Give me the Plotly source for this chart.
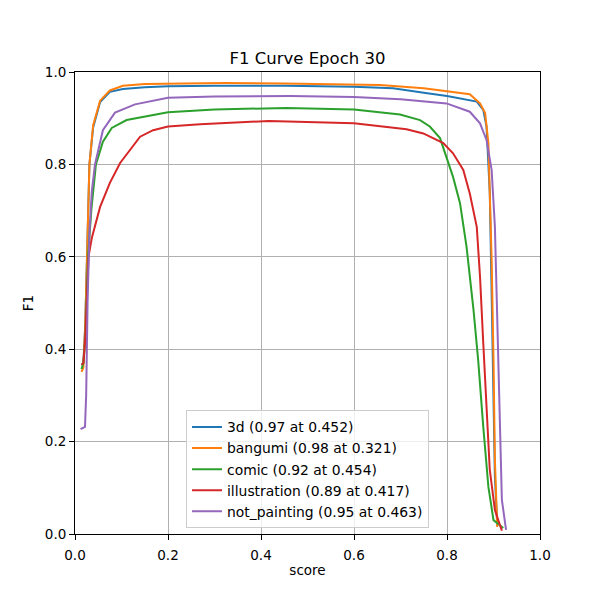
import plotly.graph_objects as go

labels = ["3d (0.97 at 0.452)", "bangumi (0.98 at 0.321)", "comic (0.92 at 0.454)",
          "illustration (0.89 at 0.417)", "not_painting (0.95 at 0.463)"]
colors = ["#1f77b4", "#ff7f0e", "#2ca02c", "#d62728", "#9467bd"]

x_3d = [0.014, 0.018, 0.022, 0.026, 0.031, 0.039, 0.054, 0.075, 0.103, 0.15, 0.2, 0.3, 0.452,
        0.6, 0.684, 0.75, 0.8, 0.864, 0.878, 0.885, 0.892, 0.896, 0.9, 0.903, 0.908]
y_3d = [0.366, 0.37, 0.45, 0.62, 0.8, 0.88, 0.935, 0.957, 0.963, 0.967, 0.969, 0.970, 0.970,
        0.968, 0.965, 0.955, 0.948, 0.936, 0.918, 0.882, 0.738, 0.52, 0.305, 0.124, 0.02]

x_bangumi = [0.014, 0.018, 0.022, 0.026, 0.031, 0.039, 0.054, 0.075, 0.103, 0.15, 0.2, 0.321,
             0.45, 0.6, 0.656, 0.75, 0.849, 0.871, 0.882, 0.889, 0.896, 0.9, 0.903, 0.908]
y_bangumi = [0.351, 0.36, 0.45, 0.62, 0.8, 0.885, 0.938, 0.96, 0.970, 0.974, 0.975, 0.976,
             0.975, 0.973, 0.972, 0.965, 0.952, 0.932, 0.911, 0.846, 0.593, 0.377, 0.16, 0.015]

x_comic = [0.014, 0.018, 0.022, 0.026, 0.028, 0.035, 0.045, 0.06, 0.079, 0.111, 0.2, 0.3, 0.454,
           0.6, 0.699, 0.742, 0.763, 0.785, 0.799, 0.813, 0.828, 0.842, 0.857, 0.867, 0.878,
           0.889, 0.9, 0.921]
y_comic = [0.357, 0.37, 0.42, 0.55, 0.6, 0.70, 0.80, 0.849, 0.879, 0.896, 0.913, 0.919, 0.922,
           0.919, 0.908, 0.896, 0.882, 0.857, 0.817, 0.773, 0.716, 0.622, 0.485, 0.377, 0.232,
           0.102, 0.03, 0.013]

x_illustration = [0.014, 0.018, 0.022, 0.026, 0.029, 0.036, 0.054, 0.075, 0.097, 0.14, 0.168,
                  0.2, 0.269, 0.417, 0.6, 0.713, 0.749, 0.792, 0.813, 0.835, 0.849, 0.864,
                  0.871, 0.878, 0.885, 0.892, 0.903, 0.918]
y_illustration = [0.366, 0.37, 0.42, 0.53, 0.6, 0.64, 0.708, 0.76, 0.803, 0.86, 0.874,
                  0.882, 0.887, 0.894, 0.889, 0.876, 0.867, 0.846, 0.824, 0.788, 0.737, 0.665,
                  0.557, 0.413, 0.268, 0.139, 0.052, 0.007]

x_not_painting = [0.012, 0.0215, 0.024, 0.027, 0.031, 0.036, 0.043, 0.06, 0.086, 0.129, 0.2,
                  0.3, 0.463, 0.6, 0.7, 0.799, 0.849, 0.871, 0.885, 0.896, 0.903, 0.908,
                  0.913, 0.918, 0.927]
y_not_painting = [0.227, 0.232, 0.3, 0.5, 0.65, 0.74, 0.8, 0.874, 0.912, 0.93, 0.944,
                  0.947, 0.948, 0.946, 0.941, 0.932, 0.914, 0.889, 0.853, 0.788, 0.665, 0.449,
                  0.232, 0.074, 0.009]

xs = [x_3d, x_bangumi, x_comic, x_illustration, x_not_painting]
ys = [y_3d, y_bangumi, y_comic, y_illustration, y_not_painting]

tick_vals = [0.0, 0.2, 0.4, 0.6, 0.8, 1.0]
tick_text = ["0.0", "0.2", "0.4", "0.6", "0.8", "1.0"]

fig = go.Figure()
for x, y, name, c in zip(xs, ys, labels, colors):
    fig.add_trace(go.Scatter(x=x, y=y, mode="lines", name=name,
                             line=dict(color=c, width=2)))

axis_common = dict(
    range=[0, 1], tickvals=tick_vals, ticktext=tick_text,
    showline=True, linecolor="black", linewidth=1, mirror=True,
    ticks="outside", ticklen=5, tickcolor="black", tickwidth=1,
    showgrid=True, gridcolor="#b0b0b0", gridwidth=1, zeroline=False,
    tickfont=dict(size=13.5, color="black"),
)

fig.update_layout(
    width=592, height=592,
    margin=dict(l=67, r=60, t=64, b=66),
    paper_bgcolor="white", plot_bgcolor="white",
    font=dict(family="DejaVu Sans", color="black"),
    title=dict(text="F1 Curve Epoch 30", x=(307.5 - 8) / 592, xanchor="center",
               y=1 - 50 / 592, yanchor="middle", font=dict(size=16.5, color="black")),
    xaxis=dict(title=dict(text="score", font=dict(size=13.5), standoff=3),
               ticklabelstandoff=4, **axis_common),
    yaxis=dict(title=dict(text="F1", font=dict(size=13.5), standoff=8), **axis_common),
    legend=dict(x=0.5, xanchor="center", y=0.012, yanchor="bottom",
                bgcolor="rgba(255,255,255,0.8)", bordercolor="#cccccc", borderwidth=1,
                font=dict(size=13.9, color="black")),
    showlegend=True,
)

fig.write_html("out.html")
